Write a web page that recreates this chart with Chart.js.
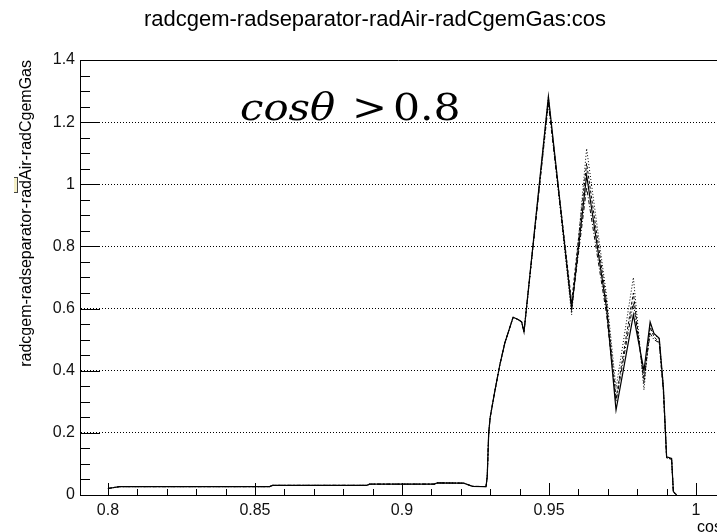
<!DOCTYPE html>
<html>
<head>
<meta charset="utf-8">
<script src="https://cdn.jsdelivr.net/npm/chart.js@4.4.1/dist/chart.umd.min.js"></script>
<style>
html,body{margin:0;padding:0;background:#fff;}
#wrap{width:717px;height:532px;}
</style>
</head>
<body>
<div id="wrap"><canvas id="c" width="717" height="532"></canvas></div>
<script>
// x values (cos) shared by every curve
const cosVals = [0.8, 0.804, 0.855, 0.856, 0.888, 0.889, 0.911, 0.912, 0.921, 0.924,
  0.9286, 0.929, 0.9295, 0.930, 0.9315, 0.9333, 0.935, 0.9378, 0.9395, 0.9407,
  0.9415, 0.9498, 0.9577, 0.9628, 0.9696, 0.9728, 0.9787, 0.9823, 0.9844, 0.9857,
  0.9875, 0.9889, 0.9900, 0.9917, 0.9923, 0.9934];
// solid curve
const mainVals = [0.021, 0.027, 0.027, 0.031, 0.031, 0.035, 0.035, 0.039, 0.038, 0.028,
  0.027, 0.06, 0.20, 0.25, 0.33, 0.42, 0.49, 0.572, 0.565, 0.557,
  0.525, 1.283, 0.60, 1.029, 0.60, 0.273, 0.58, 0.40, 0.557, 0.52,
  0.504, 0.348, 0.123, 0.118, 0.011, 0];
// dotted / dashed curves (only differ past the first peak)
const dotA = [0.021, 0.027, 0.027, 0.031, 0.031, 0.035, 0.035, 0.039, 0.038, 0.028,
  0.027, 0.06, 0.20, 0.25, 0.33, 0.42, 0.49, 0.572, 0.565, 0.557,
  0.525, 1.28, 0.58, 1.115, 0.64, 0.343, 0.70, 0.338, 0.55, 0.52,
  0.50, 0.35, 0.12, 0.115, 0.01, 0];
const dotB = [0.021, 0.027, 0.027, 0.031, 0.031, 0.035, 0.035, 0.039, 0.038, 0.028,
  0.027, 0.06, 0.20, 0.25, 0.33, 0.42, 0.49, 0.572, 0.565, 0.557,
  0.525, 1.27, 0.62, 1.067, 0.62, 0.31, 0.65, 0.36, 0.54, 0.51,
  0.49, 0.34, 0.12, 0.115, 0.01, 0];
const dotC = [0.021, 0.027, 0.027, 0.031, 0.031, 0.035, 0.035, 0.039, 0.038, 0.028,
  0.027, 0.06, 0.20, 0.25, 0.33, 0.42, 0.49, 0.572, 0.565, 0.557,
  0.525, 1.26, 0.60, 0.99, 0.58, 0.30, 0.62, 0.38, 0.52, 0.50,
  0.49, 0.33, 0.12, 0.115, 0.01, 0];

const xTicks = [0.8, 0.85, 0.9, 0.95, 1.0];
const yTicks = [0, 0.2, 0.4, 0.6, 0.8, 1.0, 1.2, 1.4];
const titleText = 'radcgem-radseparator-radAir-radCgemGas:cos';
const yTitle = 'radcgem-radseparator-radAir-radCgemGas';
const xTitle = 'cos';

const font = '"Liberation Sans", Arial, sans-serif';

function pts(vals){ return cosVals.map((c,i)=>({x:c, y:vals[i]})); }

function line(ctx, x1, y1, x2, y2){
  ctx.beginPath(); ctx.moveTo(x1, y1); ctx.lineTo(x2, y2); ctx.stroke();
}

// text stretched a bit sideways (the original math font is wider)
function wideText(ctx, t, x, y, sx){
  ctx.save(); ctx.translate(x, y); ctx.scale(sx, 1); ctx.fillText(t, 0, 0); ctx.restore();
}

// ROOT-ish frame: title, top border, inner ticks, note text, cut-off x title
const framePlugin = {
  id: 'frame',
  afterDraw(chart){
    const {ctx, chartArea:a, scales:{x, y}} = chart;
    ctx.save();
    // title is centred on the original (wider) pad, not on this crop
    ctx.fillStyle = '#000';
    ctx.font = '22px ' + font;
    ctx.textAlign = 'center';
    ctx.textBaseline = 'alphabetic';
    ctx.fillText(titleText, 375, 26);
    ctx.textAlign = 'left';

    ctx.strokeStyle = '#000';
    ctx.lineWidth = 1;
    line(ctx, a.left, a.top + 0.5, a.right, a.top + 0.5);
    for(let k=80; k<=100; k++){
      const px = Math.round(x.getPixelForValue(k/100)) + 0.5;
      line(ctx, px, a.bottom, px, a.bottom - (k%5===0 ? 12 : 6));
    }
    for(let k=0; k<=28; k++){
      const py = Math.round(y.getPixelForValue(k*0.05)) + 0.5;
      line(ctx, a.left, py, a.left + (k%4===0 ? 20 : 10), py);
    }
    // note
    ctx.font = 'italic 38px "DejaVu Serif"';
    wideText(ctx, 'cosθ', 240, 120, 1.1);
    ctx.font = '38px "DejaVu Serif"';
    wideText(ctx, '>', 352, 120, 1.1);
    wideText(ctx, '0.8', 393, 120, 1.12);
    // x title, partly off the canvas like the original
    ctx.font = '16px ' + font;
    ctx.textBaseline = 'middle';
    ctx.fillText(xTitle, 697, 528);
    // small stray bracket left of the y title
    ctx.fillStyle = '#f4efc6';
    ctx.fillRect(14, 177, 3, 16);
    ctx.strokeStyle = '#444';
    line(ctx, 17.5, 177, 17.5, 193);
    line(ctx, 14, 177.5, 17.5, 177.5);
    line(ctx, 14, 192.5, 17.5, 192.5);
    ctx.restore();
  }
};

const ds = (vals, dash, w) => ({
  data: pts(vals), borderColor: '#000', borderWidth: w, borderDash: dash,
  pointRadius: 0, tension: 0, fill: false
});

new Chart(document.getElementById('c'), {
  type: 'line',
  data: { datasets: [
    ds(dotA, [1,2], 1),
    ds(dotB, [3,2], 1),
    ds(dotC, [4,2,1,2], 1),
    ds(mainVals, [], 1.2)
  ]},
  options: {
    responsive: false,
    animation: false,
    devicePixelRatio: 1,
    layout: { padding: { top: 60, left: 0, right: 0, bottom: 0 } },
    plugins: {
      legend: { display: false },
      tooltip: { enabled: false },
      title: { display: false }
    },
    scales: {
      x: {
        type: 'linear', min: 0.7905, max: 1.00714,
        afterBuildTicks: s => { s.ticks = xTicks.map(v=>({value:v})); },
        afterFit: s => { s.height = 37; },
        grid: { display: false, drawTicks: false },
        border: { display: true, color: '#000', width: 1 },
        ticks: {
          autoSkip: false, maxRotation: 0, padding: 6, color: '#111',
          font: { family: font, size: 16 },
          callback: v => String(+v.toFixed(2))
        }
      },
      y: {
        min: 0, max: 1.4,
        afterBuildTicks: s => { s.ticks = yTicks.map(v=>({value:v})); },
        afterFit: s => { s.width = 80; },
        grid: {
          drawTicks: false, lineWidth: 1,
          color: c => (c.tick && c.tick.value > 0.01 && c.tick.value < 1.39) ? '#000' : 'rgba(0,0,0,0)'
        },
        border: { display: true, color: '#000', width: 1, dash: [1,2] },
        ticks: {
          padding: 5, color: '#111',
          font: { family: font, size: 16 },
          callback: v => String(+v.toFixed(1))
        },
        title: {
          display: true, text: yTitle, align: 'end', color: '#000',
          font: { family: font, size: 16 },
          padding: { top: 17, bottom: 0 }
        }
      }
    }
  },
  plugins: [framePlugin]
});
</script>
</body>
</html>
